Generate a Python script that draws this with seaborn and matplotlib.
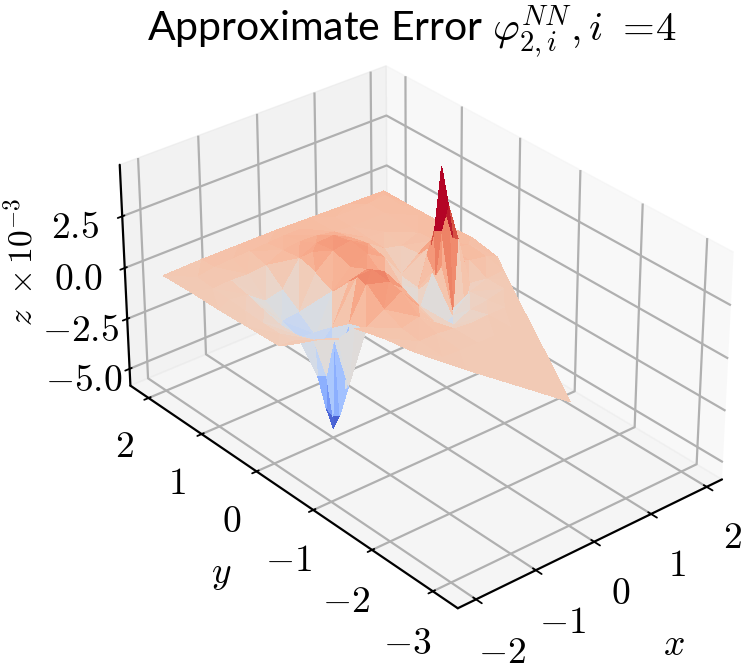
import numpy as np
import matplotlib
matplotlib.use("Agg")
import matplotlib.pyplot as plt
import matplotlib.tri as mtri
from matplotlib.path import Path
import seaborn as sns

nan = float("nan")

# interior nodes, rows follow x_grid, columns follow y_grid
x_grid = [-1.5, -1.2, -0.9, -0.6, -0.3, 0.0, 0.3, 0.6, 0.9, 1.2, 1.5, 1.8]
y_grid = [1.9, 1.6, 1.3, 1.0, 0.7, 0.4, 0.1, -0.2, -0.5, -0.8, -1.2, -1.6, -2.0, -2.4]
z_grid = [
    [-0.65, -0.7, -0.75, -0.8, -0.85, -0.85, -0.8, nan, nan, nan, nan, nan, nan, nan],
    [-0.5, -0.65, -0.85, -1.1, -1.3, -1.3, -1.0, nan, nan, nan, nan, nan, nan, nan],
    [-0.45, -0.7, -1.5, -2.0, -2.3, -2.5, nan, nan, nan, nan, nan, nan, nan, nan],
    [-0.4, -0.6, -1.3, -1.9, -2.5, -1.6, -0.9, -0.6, -0.6, nan, nan, nan, nan, nan],
    [-0.35, -0.2, -0.1, -0.3, -0.7, 0.3, 0.6, -0.1, -0.5, -0.6, -0.65, nan, nan, nan],
    [-0.3, -0.1, 0.3, 0.4, 0.1, 0.5, 0.9, 0.4, -0.3, -0.6, -0.7, -0.7, -0.7, nan],
    [-0.3, -0.15, 0.35, 0.55, 0.4, -0.3, -0.2, -0.6, -1.0, -0.7, -0.7, -0.7, -0.7, -0.7],
    [-0.35, -0.3, -0.1, 0.1, -0.1, -1.0, -1.8, -2.5, -1.4, -0.8, -0.7, -0.7, -0.7, nan],
    [-0.4, -0.4, -0.45, -0.5, -1.3, -1.4, -0.3, -1.8, -1.0, -0.75, -0.7, -0.7, nan, nan],
    [-0.4, -0.4, -0.5, -0.7, -0.6, 0.8, 1.2, -1.0, -0.9, -0.75, nan, nan, nan, nan],
    [-0.4, -0.4, -0.4, -0.4, -0.3, -0.2, -0.3, -0.7, -0.7, nan, nan, nan, nan, nan],
    [-0.3, -0.35, -0.35, -0.35, -0.3, -0.35, -0.45, -0.65, nan, nan, nan, nan, nan, nan],
]

# outline of the surface, in order
edge_x = [-1.8, -1.2, -0.6, 0.0, 0.6, 1.2, 1.84, 1.9, 1.93, 1.95, 1.97, 1.7, 1.4, 1.1, 0.7, 0.25,
          0.0, -0.25, -0.5, -0.8, -1.0, -1.3, -1.5, -1.72, -1.74, -1.76, -1.78]
edge_y = [2.2, 2.16, 2.12, 2.08, 2.04, 2.0, 1.96, 1.5, 1.0, 0.5, 0.07, -0.38, -0.87, -1.36, -2.02, -2.75,
          -2.15, -1.55, -0.92, -0.19, -0.12, -0.0, 0.08, 0.16, 0.7, 1.2, 1.7]
edge_z = [-0.7, -0.55, -0.45, -0.35, -0.3, -0.25, -0.2, -0.35, -0.4, -0.3, -0.6, -0.7, -0.7, -0.7, -0.7, -0.7,
          -0.7, -0.7, -0.65, -0.4, -0.8, -0.7, -0.6, -0.75, -0.75, -0.75, -0.7]

# extra nodes around the two spikes and on the humps
spike_x = [-0.9, -0.96, -0.84, -0.96, -0.84, -1.02, -0.78, -1.05, -0.75, -0.8, -1.0,
           1.08, 1.02, 1.14, 1.02, 1.14, 0.95, 1.2, 0.95, 1.22, 1.08, 0.85, 1.3, 1.0, 1.18, 0.8, 1.35,
           -0.15, -0.32, -0.06, 0.13, 0.13, 0.28, 0.15, -0.15, 0.45]
spike_y = [0.1, 0.16, 0.16, 0.04, 0.04, 0.24, 0.26, 0.05, 0.03, -0.08, -0.04,
           0.18, 0.24, 0.24, 0.12, 0.12, 0.3, 0.32, 0.05, 0.03, 0.36, 0.1, 0.2, -0.1, -0.12, 0.3, -0.05,
           0.16, 0.24, -0.05, 0.25, -0.37, 1.05, 1.15, 1.2, 0.85]
spike_z = [-5.7, -4.7, -4.6, -4.9, -5.0, -3.2, -3.1, -2.8, -3.8, -3.4, -0.9,
           4.6, 1.5, 3.0, 1.7, 2.8, 0.3, 1.0, 0.2, 1.2, 0.5, -0.1, -0.2, -1.8, -1.8, -1.2, -1.0,
           1.05, 0.8, 0.7, 0.5, -0.3, 0.55, 0.5, 0.2, 0.35]

x_ticks = [-2, -1, 0, 1, 2]
y_ticks = [-3, -2, -1, 0, 1, 2]
z_ticks = [-5.0, -2.5, 0.0, 2.5]

sns.set_theme(style="ticks", rc={
    "axes.edgecolor": "black",
    "axes.linewidth": 1.6,
    "grid.color": "#b0b0b0",
    "grid.linewidth": 1.6,
    "xtick.major.width": 1.3,
    "ytick.major.width": 1.3,
    "text.color": "black",
    "xtick.color": "black",
    "ytick.color": "black",
    "axes.labelcolor": "black",
    "mathtext.fontset": "cm",
})
plt.rcParams["font.family"] = ["Lato", "DejaVu Sans"]

gx, gy = np.meshgrid(x_grid, y_grid, indexing="ij")
gz = np.array(z_grid)
keep = np.isfinite(gz)
x = np.concatenate([gx[keep], edge_x, spike_x])
y = np.concatenate([gy[keep], edge_y, spike_y])
z = np.concatenate([gz[keep], edge_z, spike_z])

# drop the triangles that fall outside the outline
tri = mtri.Triangulation(x, y)
outline = Path(np.column_stack([edge_x, edge_y]))
cx = x[tri.triangles].mean(axis=1)
cy = y[tri.triangles].mean(axis=1)
tri.set_mask(~outline.contains_points(np.column_stack([cx, cy])))

fig = plt.figure(figsize=(7.45, 6.68), dpi=100)
ax = fig.add_axes([0.1087, 0.0112, 0.886, 0.988], projection="3d")
ax.plot_trisurf(x, y, z, triangles=tri.get_masked_triangles(), cmap=sns.color_palette("coolwarm", as_cmap=True),
                vmin=-5.6, vmax=2.5, linewidth=0, antialiased=False)

ax.set_xlim(-2.3, 2.28)
ax.set_ylim(-3.4, 2.35)
ax.set_zlim(-5.85, 4.95)
ax.view_init(elev=30.5, azim=-130)
ax.set_box_aspect((4, 6.05, 3.0))

ax.set_xticks(x_ticks, [f"${v}$" for v in x_ticks], fontsize=27)
ax.set_yticks(y_ticks, [f"${v}$" for v in y_ticks], fontsize=27)
ax.set_zticks(z_ticks, [f"${v:.1f}$" for v in z_ticks], fontsize=27)
ax.tick_params(axis="x", pad=10)
ax.tick_params(axis="y", pad=15)
ax.tick_params(axis="z", pad=12)
ax.set_xlabel("$x$", fontsize=27, labelpad=34)
ax.set_ylabel("$y$", fontsize=27, labelpad=38)
ax.zaxis.set_rotate_label(False)
ax.set_zlabel(r"$z\ \times 10^{-3}$", fontsize=24, labelpad=24, rotation=90)

fig.text(0.552, 0.953, r"Approximate Error $\varphi_{2,i}^{NN}, i\ =\!4$", fontsize=29.5, ha="center", va="center")

fig.savefig("out.png", dpi=100)
